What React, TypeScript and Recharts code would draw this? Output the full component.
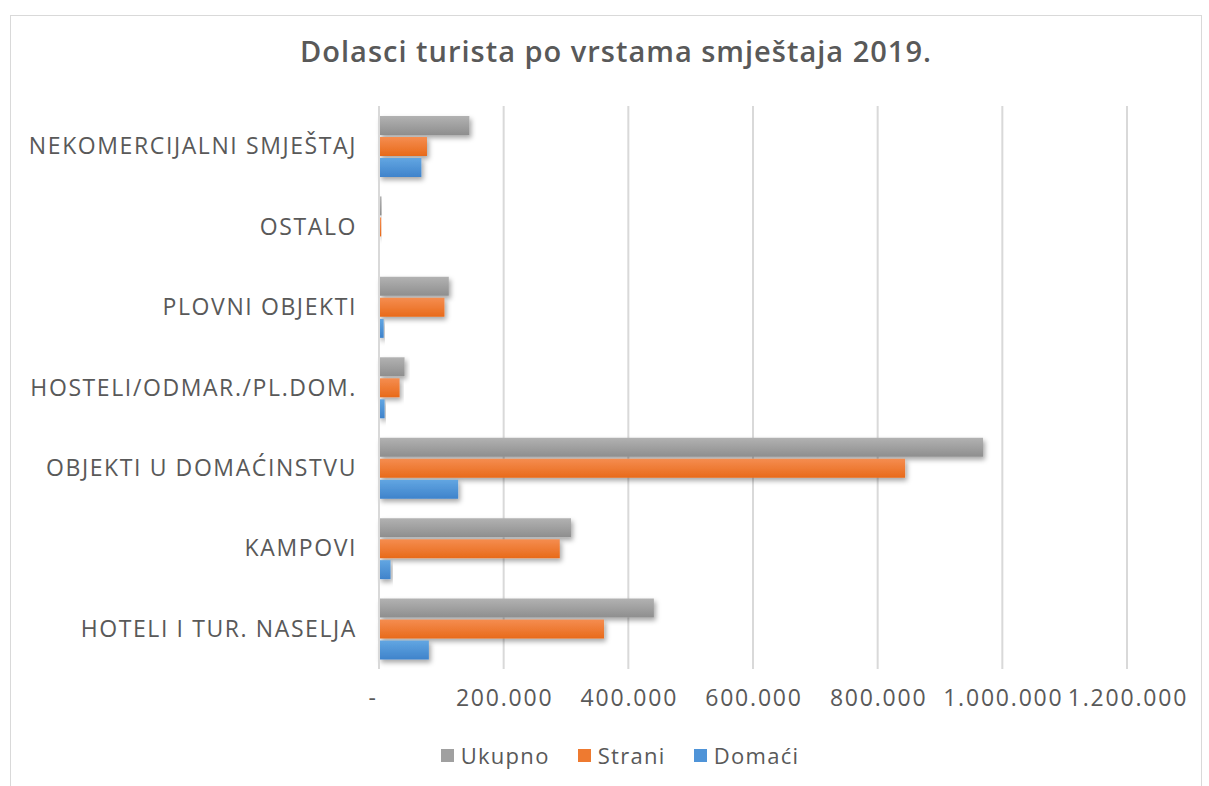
import { BarChart, Bar, XAxis, YAxis, CartesianGrid, Legend } from 'recharts';

const categories = [
  'NEKOMERCIJALNI SMJEŠTAJ',
  'OSTALO',
  'PLOVNI OBJEKTI',
  'HOSTELI/ODMAR./PL.DOM.',
  'OBJEKTI U DOMAĆINSTVU',
  'KAMPOVI',
  'HOTELI I TUR. NASELJA',
];
const ukupno = [145000, 4000, 112000, 41000, 969000, 308000, 441000];
const strani = [77000, 3500, 105000, 33000, 844000, 290000, 361000];
const domaci = [68000, 500, 7500, 9000, 127000, 18500, 80000];
const xTicks = [0, 200000, 400000, 600000, 800000, 1000000, 1200000];

const series = [
  { key: 'ukupno', name: 'Ukupno', top: '#b2b2b2', bottom: '#8e8e8e', swatch: '#a0a0a0' },
  { key: 'strani', name: 'Strani', top: '#f58d50', bottom: '#e86a1a', swatch: '#ee7a30' },
  { key: 'domaci', name: 'Domaći', top: '#62a6e2', bottom: '#3f83cb', swatch: '#4f94d8' },
];

const data = categories.map((c, i) => ({
  name: c,
  ukupno: ukupno[i],
  strani: strani[i],
  domaci: domaci[i],
}));

const FONT = '"Open Sans", sans-serif';
const TEXT = '#595959';

const fmt = (v: number) =>
  v === 0 ? '-' : String(v).replace(/\B(?=(\d{3})+(?!\d))/g, '.');

const CatTick = (props: any) => {
  const { y, payload } = props;
  return (
    <text x={357} y={y} dy={8} textAnchor="end" fill={TEXT} fontSize={23} letterSpacing={1.6} fontFamily={FONT}>
      {payload.value}
    </text>
  );
};

const ValTick = (props: any) => {
  const { x, payload } = props;
  return (
    <text
      x={payload.value === 0 ? x - 6 : x + 1}
      y={706}
      textAnchor="middle"
      fill={TEXT}
      fontSize={23}
      letterSpacing={1.8}
      fontFamily={FONT}
    >
      {fmt(payload.value)}
    </text>
  );
};

const LegendContent = () => (
  <div style={{ display: 'flex', justifyContent: 'center', gap: 28, fontFamily: FONT, fontSize: 22, letterSpacing: 1.3, color: TEXT, paddingLeft: 31 }}>
    {series.map((s) => (
      <div key={s.key} style={{ display: 'flex', alignItems: 'center', gap: 7 }}>
        <span style={{ width: 13, height: 13, background: s.swatch, display: 'inline-block' }} />
        <span>{s.name}</span>
      </div>
    ))}
  </div>
);

export default function App() {
  return (
    <div style={{ position: 'absolute', left: 0, top: 0, width: 1209, height: 786, background: '#fff' }}>
      <div
        style={{
          position: 'absolute',
          left: 10,
          top: 15,
          width: 1192,
          height: 780,
          border: '1px solid #d9d9d9',
          boxSizing: 'border-box',
        }}
      />
      <div
        style={{
          position: 'absolute',
          top: 31,
          left: 0,
          width: 1232,
          textAlign: 'center',
          fontFamily: FONT,
          fontSize: 29,
          fontWeight: 600,
          letterSpacing: 1,
          color: TEXT,
        }}
      >
        Dolasci turista po vrstama smještaja 2019.
      </div>
      <div style={{ position: 'absolute', left: 0, top: 0 }}>
        <BarChart
          width={1209}
          height={786}
          data={data}
          layout="vertical"
          margin={{ top: 106, right: 82, bottom: 0, left: 0 }}
          barCategoryGap={10}
          barGap={2}
        >
          <defs>
            {series.map((s) => (
              <linearGradient key={s.key} id={`g-${s.key}`} x1="0" y1="0" x2="0" y2="1">
                <stop offset="0%" stopColor={s.top} />
                <stop offset="100%" stopColor={s.bottom} />
              </linearGradient>
            ))}
            <filter id="shadow" x="-10%" y="-30%" width="130%" height="180%">
              <feDropShadow dx="2" dy="3" stdDeviation="2.5" floodColor="#000" floodOpacity="0.35" />
            </filter>
          </defs>
          <CartesianGrid horizontal={false} stroke="#d9d9d9" strokeWidth={2} />
          <XAxis
            type="number"
            domain={[0, 1200000]}
            ticks={xTicks}
            axisLine={false}
            tickLine={false}
            tick={<ValTick />}
            height={89}
          />
          <YAxis
            type="category"
            dataKey="name"
            width={379}
            axisLine={{ stroke: '#d9d9d9', strokeWidth: 2 }}
            tickLine={false}
            tick={<CatTick />}
            interval={0}
          />
          <Legend
            verticalAlign="bottom"
            content={<LegendContent />}
            wrapperStyle={{ position: 'absolute', top: 740, left: 0, width: 1209, height: 28 }}
          />
          {series.map((s) => (
            <Bar
              key={s.key}
              dataKey={s.key}
              name={s.name}
              fill={`url(#g-${s.key})`}
              filter="url(#shadow)"
              isAnimationActive={false}
            />
          ))}
        </BarChart>
      </div>
    </div>
  );
}
